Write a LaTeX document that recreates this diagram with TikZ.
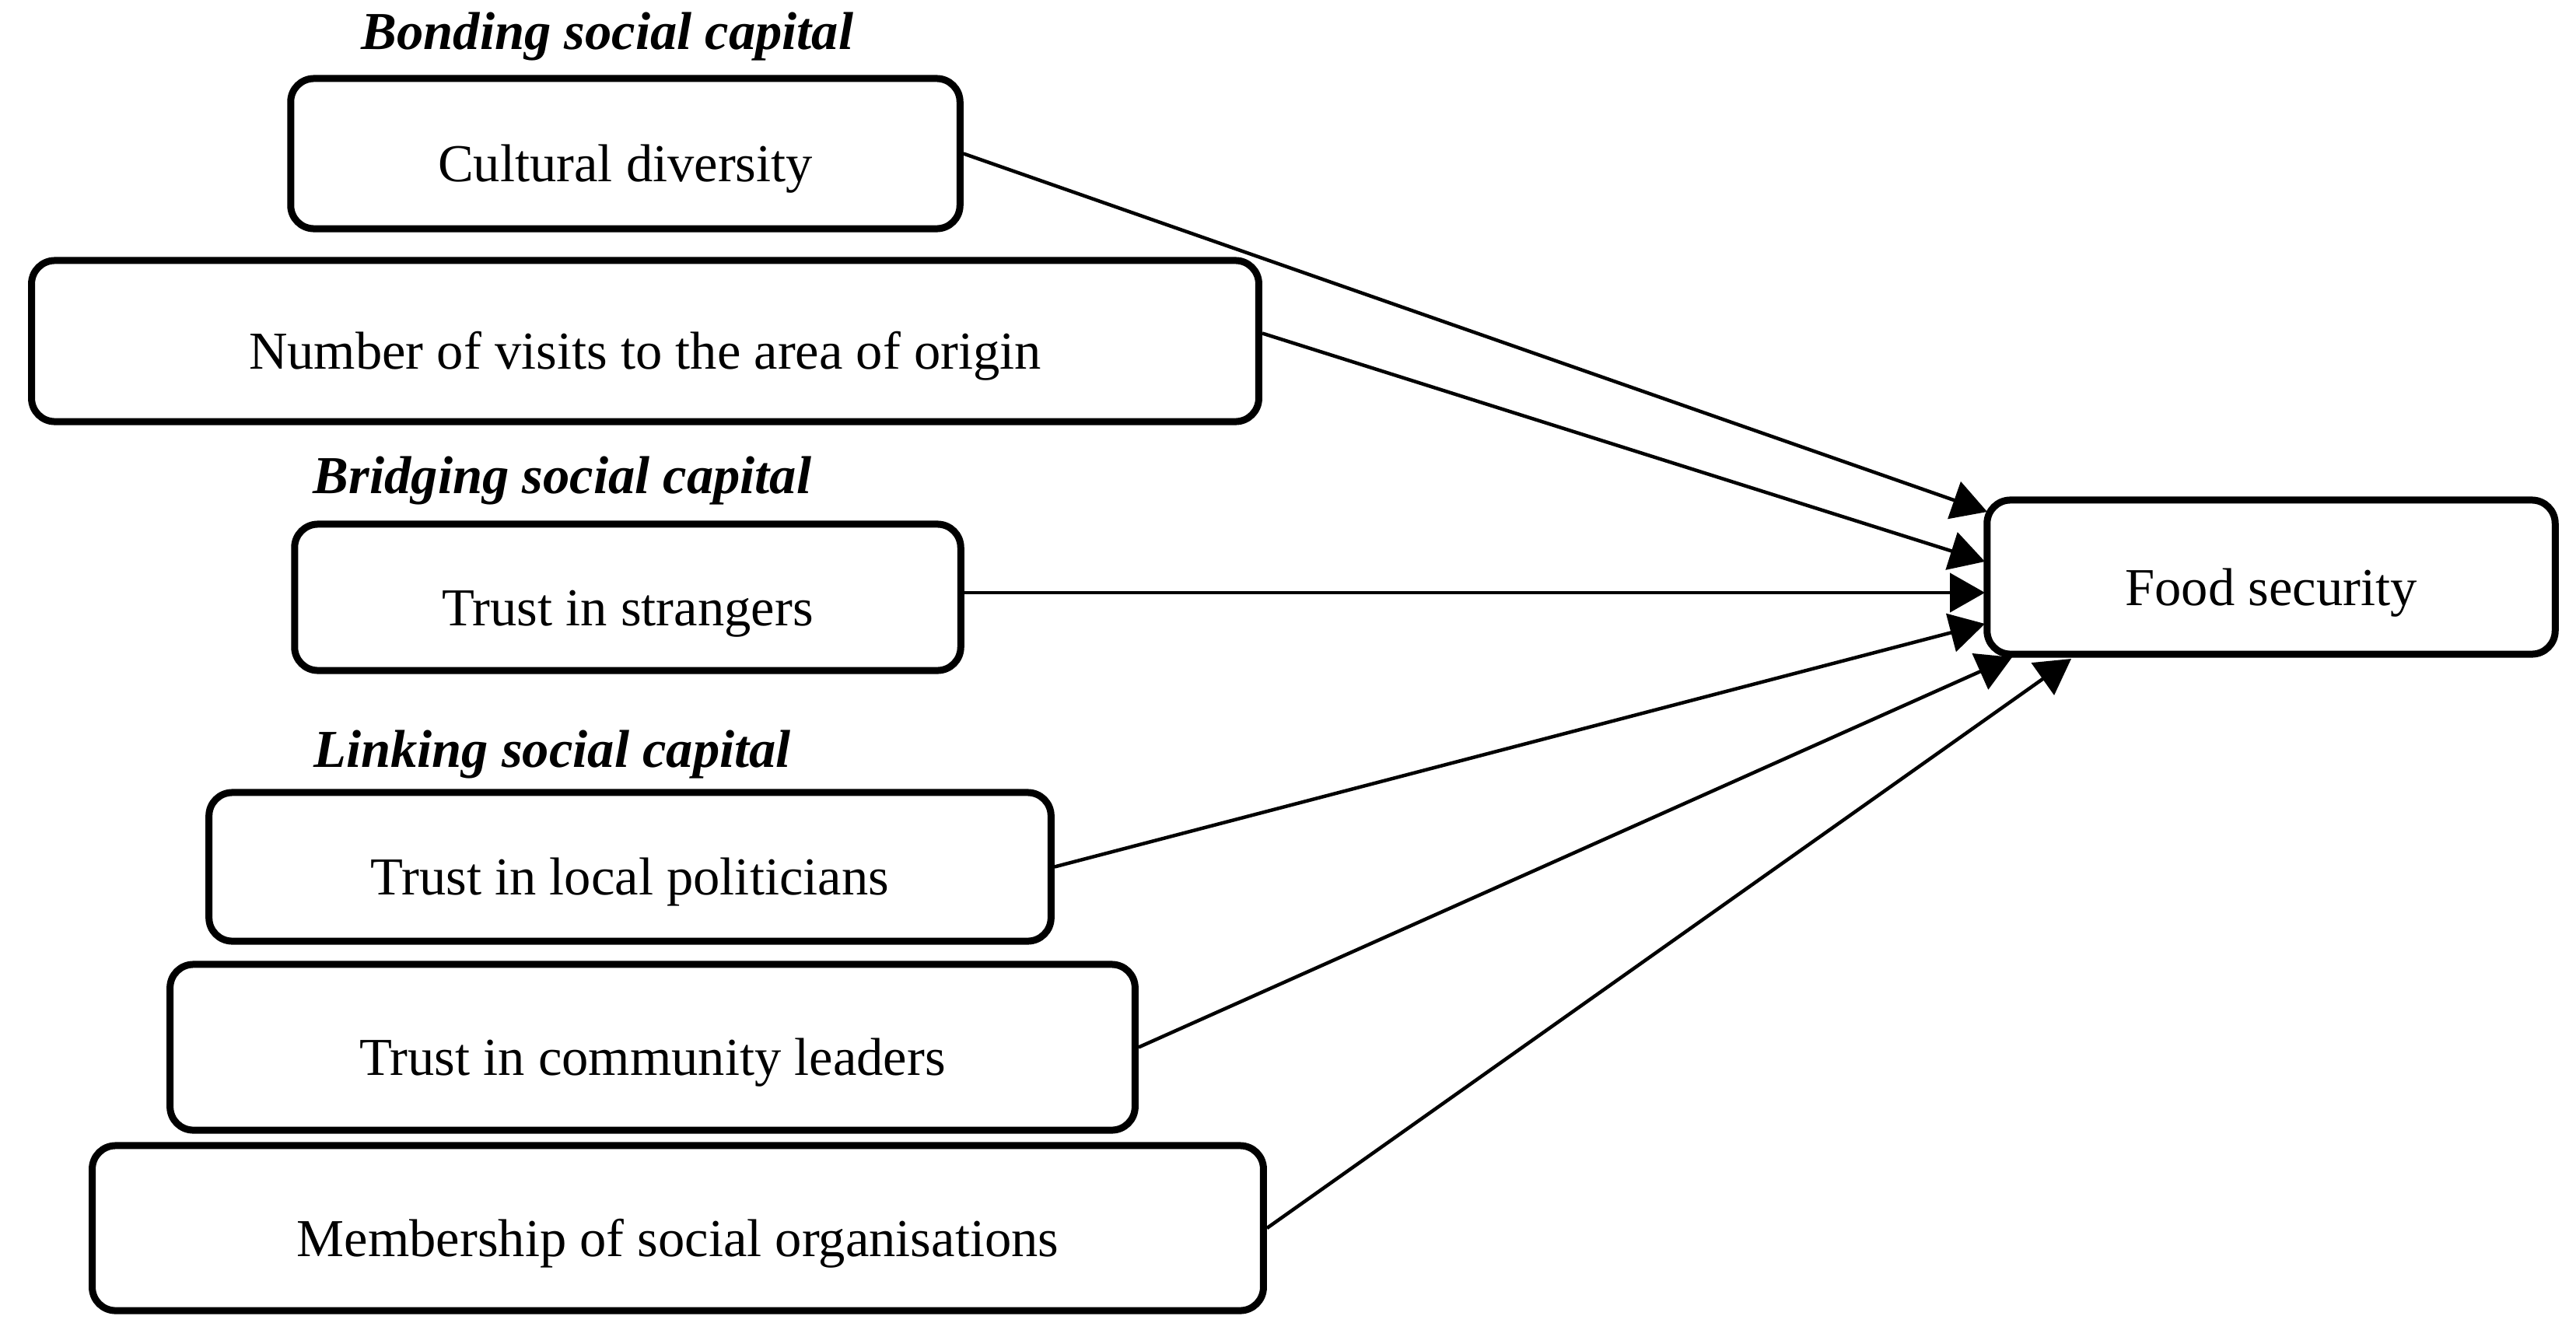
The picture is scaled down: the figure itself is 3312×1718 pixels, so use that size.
\documentclass[tikz,border=0pt]{standalone}
\usepackage{fontspec}
\setmainfont{Liberation Serif}
\usetikzlibrary{arrows.meta,calc}
\newcommand{\boxfont}{\fontsize{19.5pt}{23pt}\selectfont}
\tikzset{
  varbox/.style={draw, line width=0.09cm, rounded corners=0.3cm, align=center,
    font=\boxfont, text height=0.72cm, text depth=0pt, inner sep=0pt},
  grouplabel/.style={anchor=base, font=\boxfont\bfseries\itshape, inner sep=0pt},
  conn/.style={line width=0.045cm, -{Triangle[length=0.45cm,width=0.5cm]}}
}
\begin{document}
\begin{tikzpicture}[x=0.01cm, y=-0.01cm]
\useasboundingbox (0,0) rectangle (3312,1718);
% group labels
\node[grouplabel] (lbond) at (781,63) {Bonding social capital};
\node[grouplabel] (lbridge) at (723,634) {Bridging social capital};
\node[grouplabel] (llink) at (710,986) {Linking social capital};
% boxes
\node[varbox, minimum width=8.60cm, minimum height=1.93cm] (b1) at (804,197.5) {Cultural diversity};
\node[varbox, minimum width=15.77cm, minimum height=2.07cm] (b2) at (829.5,438.5) {Number of visits to the area of origin};
\node[varbox, minimum width=8.56cm, minimum height=1.88cm] (b3) at (807,768) {Trust in strangers};
\node[varbox, minimum width=10.82cm, minimum height=1.91cm] (b4) at (810,1114.5) {Trust in local politicians};
\node[varbox, minimum width=12.40cm, minimum height=2.13cm] (b5) at (839,1346.5) {Trust in community leaders};
\node[varbox, minimum width=15.05cm, minimum height=2.12cm] (b6) at (871.5,1579) {Membership of social organisations};
\node[varbox, minimum width=7.30cm, minimum height=1.98cm] (fs) at (2920,742) {Food security};
% arrow targets on the Food security box
\coordinate (t1) at (2555,658);
\coordinate (t2) at (2552,722);
\coordinate (t3) at (2552,762);
\coordinate (t4) at (2552,802);
\coordinate (t5) at (2587,845);
\coordinate (t6) at (2663,847);
% connectors
\draw[conn] (b1.east) -- (t1);
\draw[conn] ($(b2.east)+(0,-10)$) -- (t2);
\draw[conn] ($(b3.east)+(0,-6)$) -- (t3);
\draw[conn] (b4.east) -- (t4);
\draw[conn] (b5.east) -- (t5);
\draw[conn] (b6.east) -- (t6);
\end{tikzpicture}
\end{document}
